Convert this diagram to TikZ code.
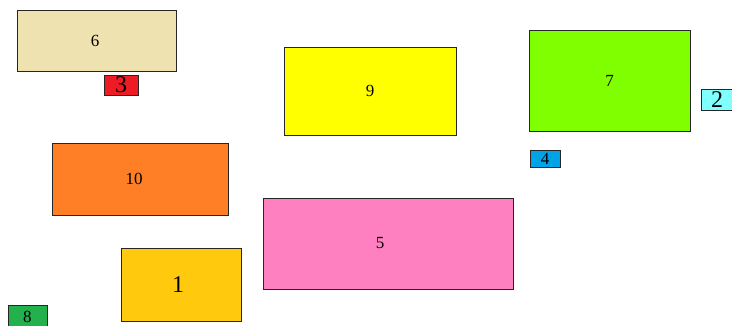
\documentclass[tikz,border=0pt]{standalone}
\usepackage{fontspec}
\setmainfont{Liberation Serif}
\usepackage{xcolor}
\usetikzlibrary{positioning}
\definecolor{wheatbox}{RGB}{238,226,176}
\definecolor{redbox}{RGB}{237,28,36}
\definecolor{yellowbox}{RGB}{255,255,0}
\definecolor{limebox}{RGB}{128,255,0}
\definecolor{cyanbox}{RGB}{128,255,255}
\definecolor{bluebox}{RGB}{0,162,232}
\definecolor{orangebox}{RGB}{255,127,39}
\definecolor{pinkbox}{RGB}{255,128,192}
\definecolor{goldbox}{RGB}{255,201,14}
\definecolor{greenbox}{RGB}{34,177,76}
\tikzstyle{block} = [rectangle, draw=black!85, line width=0.8pt, inner sep=0pt, text centered, font=\fontsize{17}{17}\selectfont]
\tikzstyle{tag} = [block, font=\fontsize{24}{24}\selectfont]

\begin{document}
\begin{tikzpicture}[x=1pt, y=-1pt]

\clip (0,0) rectangle (732,326);
\useasboundingbox (0,0) rectangle (732,326);

% ===== LARGE BOXES =====
\node (box6) [block, minimum width=159pt, minimum height=61pt, fill=wheatbox] at (96.5, 40.5) {\raisebox{-2pt}{6}\hspace*{3pt}};
\node (box9) [block, minimum width=172pt, minimum height=88pt, fill=yellowbox] at (370, 91) {9};
\node (box7) [block, minimum width=161pt, minimum height=101pt, fill=limebox] at (609.5, 80.5) {7};
\node (box10) [block, minimum width=176pt, minimum height=72pt, fill=orangebox] at (140, 179) {\raisebox{-2pt}{10}\hspace*{12pt}};
\node (box5) [block, minimum width=250pt, minimum height=91pt, fill=pinkbox] at (388, 243.5) {\raisebox{-1pt}{5}\hspace*{16pt}};
\node (box1) [tag, minimum width=120pt, minimum height=73pt, fill=goldbox] at (181, 284.5) {\raisebox{-1pt}{1}\hspace*{6pt}};

% ===== SMALL BOXES =====
\node (box3) [tag, minimum width=34pt, minimum height=20pt, fill=redbox] at (121, 85) {3};
\node (box2) [tag, minimum width=32pt, minimum height=21pt, fill=cyanbox] at (717, 99.5) {2};
\node (box4) [block, minimum width=30pt, minimum height=17pt, fill=bluebox] at (545, 158.5) {4};
\node (box8) [block, minimum width=39pt, minimum height=23pt, fill=greenbox] at (27.5, 316.5) {8};

\end{tikzpicture}
\end{document}
